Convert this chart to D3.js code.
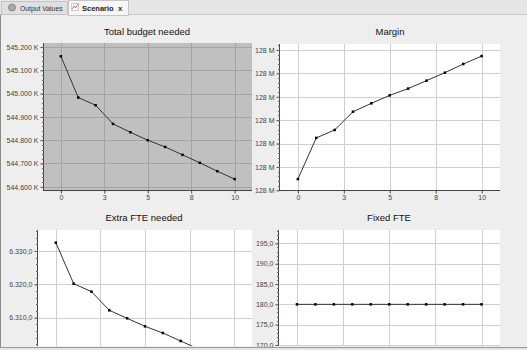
<!DOCTYPE html>
<html>
<head>
<meta charset="utf-8">
<script src="https://cdn.jsdelivr.net/npm/d3@7"></script>
<style>
  body { margin: 0; background: #eeeeee; }
  svg { display: block; font-family: "Liberation Sans", Arial, sans-serif; }
</style>
</head>
<body>
<svg width="527" height="350"></svg>
<script>
// scenario steps along the x axis
var xValues = [0, 1, 2, 3, 4, 5, 6, 7, 8, 9, 10];
var xTicks = [0, 2.5, 5, 7.5, 10];
var xTickLabels = ["0", "3", "5", "8", "10"];

// series
var budgetValues = [545160, 544983, 544950, 544870, 544834, 544800, 544771, 544737, 544703, 544667, 544633];
var marginValues = [127974800, 127992400, 127995800, 128003600, 128007200, 128010600, 128013500, 128016900, 128020300, 128024000, 128027400];
var extraFteValues = [6332.5, 6320.2, 6317.8, 6312.2, 6309.8, 6307.4, 6305.4, 6303.0, 6300.6, 6298.1, 6295.7];
var fixedFteValues = [180, 180, 180, 180, 180, 180, 180, 180, 180, 180, 180];

// y tick values
var budgetTicks = [544600, 544700, 544800, 544900, 545000, 545100, 545200];
var marginTicks = [127970000, 127980000, 127990000, 128000000, 128010000, 128020000, 128030000];
var extraFteTicks = [6310, 6320, 6330];
var fixedFteTicks = [170, 175, 180, 185, 190, 195];

// 6330.5 -> "6.330,5"
function euro(v, dec) {
  return d3.format(",." + dec + "f")(v).replace(/,/g, "#").replace(".", ",").replace(/#/g, ".");
}

var panels = [
  {title: "Total budget needed", values: budgetValues, ticks: budgetTicks,
   fmt: function(v) { return euro(v, 0) + " K"; },
   x0: 43.5, x1: 252, y0: 43, y1: 191, dom: [544582, 545217], bg: "#c0c0c0", grid: "#a4a4a4", xAxis: true, tx: 147, ty: 35},
  {title: "Margin", values: marginValues, ticks: marginTicks,
   fmt: function(v) { return (v / 1e6).toFixed(0) + " M"; },
   x0: 279.5, x1: 500, y0: 44, y1: 191, dom: [127969700, 128032565], bg: "#ffffff", grid: "#cfcfcf", xAxis: true, tx: 390, ty: 35},
  {title: "Extra FTE needed", values: extraFteValues, ticks: extraFteTicks,
   fmt: function(v) { return euro(v, 1); },
   x0: 38, x1: 252, y0: 230, y1: 346, dom: [6301.5, 6336.3], bg: "#ffffff", grid: "#cfcfcf", xAxis: false, tx: 144, ty: 221},
  {title: "Fixed FTE", values: fixedFteValues, ticks: fixedFteTicks,
   fmt: function(v) { return euro(v, 1); },
   x0: 278.5, x1: 500, y0: 230, y1: 346, dom: [169.75, 198.3], bg: "#ffffff", grid: "#cfcfcf", xAxis: false, tx: 389, ty: 221}
];

var svg = d3.select("svg");

svg.append("clipPath").attr("id", "win")
  .append("rect").attr("x", 0).attr("y", 15).attr("width", 527).attr("height", 332);

// tab bar
var tabs = svg.append("g");
tabs.append("rect").attr("width", 527).attr("height", 15).attr("fill", "#e6e6e6");
tabs.append("line").attr("x1", 0).attr("x2", 527).attr("y1", 14.5).attr("y2", 14.5).attr("stroke", "#c8c8c8");
tabs.append("rect").attr("x", 1.5).attr("y", 1.5).attr("width", 66).attr("height", 13)
  .attr("fill", "#e0e0e0").attr("stroke", "#c4c4c4");
tabs.append("circle").attr("cx", 12).attr("cy", 7.5).attr("r", 3.5).attr("fill", "#a8a8a8").attr("stroke", "#8a8a8a");
tabs.append("text").attr("x", 20).attr("y", 10.5).attr("font-size", 6.8).attr("fill", "#333").text("Output Values");
tabs.append("rect").attr("x", 68.5).attr("y", 0.5).attr("width", 60).attr("height", 15)
  .attr("fill", "#f7f7f7").attr("stroke", "#c4c4c4");
tabs.append("rect").attr("x", 71.5).attr("y", 3.5).attr("width", 7).attr("height", 7).attr("fill", "#fff").attr("stroke", "#ccc");
tabs.append("path").attr("d", "M72,9 L74,6 L75.5,8 L78,4").attr("fill", "none").attr("stroke", "#d04040").attr("stroke-width", 0.8);
tabs.append("text").attr("x", 82).attr("y", 10.5).attr("font-size", 7.5).attr("font-weight", "bold").attr("fill", "#222").text("Scenario");
tabs.append("text").attr("x", 118).attr("y", 10.5).attr("font-size", 8).attr("font-weight", "bold").attr("fill", "#333").text("x");

var body = svg.append("g").attr("clip-path", "url(#win)");
body.append("line").attr("x1", 0.5).attr("x2", 0.5).attr("y1", 15).attr("y2", 350).attr("stroke", "#8c8c8c");

panels.forEach(function(p, i) {
  var x = d3.scaleLinear().domain([-1, 11]).range([p.x0, p.x1]);
  var y = d3.scaleLinear().domain(p.dom).range([p.y1, p.y0]);
  var g = body.append("g");

  g.append("text")
      .attr("x", p.tx).attr("y", p.ty)
      .attr("text-anchor", "middle")
      .attr("font-size", 9.5)
      .attr("fill", "#111")
      .text(p.title);

  g.append("rect")
      .attr("x", p.x0).attr("y", p.y0)
      .attr("width", p.x1 - p.x0).attr("height", p.y1 - p.y0)
      .attr("fill", p.bg);

  // grid
  g.append("g").selectAll("line").data(xTicks).enter().append("line")
      .attr("x1", function(d) { return Math.round(x(d)) + 0.5; })
      .attr("x2", function(d) { return Math.round(x(d)) + 0.5; })
      .attr("y1", p.y0).attr("y2", p.y1)
      .attr("stroke", p.grid);
  g.append("g").selectAll("line").data(p.ticks).enter().append("line")
      .attr("x1", p.x0).attr("x2", p.x1)
      .attr("y1", function(d) { return Math.round(y(d)) + 0.5; })
      .attr("y2", function(d) { return Math.round(y(d)) + 0.5; })
      .attr("stroke", p.grid);

  // y axis, with 4 minor ticks between the major ones
  var minor = [];
  var step = p.ticks[1] - p.ticks[0];
  for (var t = p.ticks[0] - step; t <= p.ticks[p.ticks.length - 1] + step; t += step / 5) {
    if (t > p.dom[0] && t < p.dom[1]) minor.push(t);
  }
  var yAxis = g.append("g").attr("transform", "translate(" + (Math.round(p.x0) - 0.5) + ",0)")
      .call(d3.axisLeft(y).tickValues(p.ticks).tickSize(3).tickPadding(2).tickFormat(p.fmt));
  yAxis.select(".domain").attr("d", "M0," + p.y0 + "V" + p.y1).attr("stroke", "#444");
  yAxis.selectAll(".tick line").attr("stroke", "#444");
  yAxis.selectAll("text").attr("font-size", 7).attr("fill", "#444").attr("font-family", "Liberation Sans, Arial, sans-serif");
  g.append("g").selectAll("line").data(minor).enter().append("line")
      .attr("x1", Math.round(p.x0) - 2).attr("x2", Math.round(p.x0))
      .attr("y1", function(d) { return Math.round(y(d)) + 0.5; })
      .attr("y2", function(d) { return Math.round(y(d)) + 0.5; })
      .attr("stroke", "#666");

  // x axis (only the top row shows it)
  if (p.xAxis) {
    var xAxis = g.append("g").attr("transform", "translate(0," + (Math.round(p.y1) - 0.5) + ")")
        .call(d3.axisBottom(x).tickValues(xTicks).tickSize(3).tickPadding(2)
          .tickFormat(function(d, j) { return xTickLabels[j]; }));
    xAxis.select(".domain").attr("d", "M" + p.x0 + ",0H" + p.x1).attr("stroke", "#444");
    xAxis.selectAll(".tick line").attr("stroke", "#444");
    xAxis.selectAll("text").attr("font-size", 7).attr("fill", "#444").attr("font-family", "Liberation Sans, Arial, sans-serif");
  }

  // series
  var clipId = "plot" + i;
  g.append("clipPath").attr("id", clipId).append("rect")
      .attr("x", p.x0).attr("y", p.y0).attr("width", p.x1 - p.x0).attr("height", p.y1 - p.y0);
  var plot = g.append("g").attr("clip-path", "url(#" + clipId + ")");
  var line = d3.line()
      .x(function(d, j) { return x(xValues[j]); })
      .y(function(d) { return y(d); });
  plot.append("path")
      .datum(p.values)
      .attr("fill", "none")
      .attr("stroke", "#333")
      .attr("stroke-width", 1)
      .attr("d", line);
  plot.selectAll("rect.pt").data(p.values).enter().append("rect")
      .attr("class", "pt")
      .attr("x", function(d, j) { return x(xValues[j]) - 1.25; })
      .attr("y", function(d) { return y(d) - 1.25; })
      .attr("width", 2.5).attr("height", 2.5)
      .attr("fill", "#000");
});

// bottom edge of the window
svg.append("line").attr("x1", 0).attr("x2", 527).attr("y1", 347.5).attr("y2", 347.5).attr("stroke", "#9a9a9a");
svg.append("rect").attr("x", 0).attr("y", 348).attr("width", 527).attr("height", 2).attr("fill", "#e4e4e4");
</script>
</body>
</html>
